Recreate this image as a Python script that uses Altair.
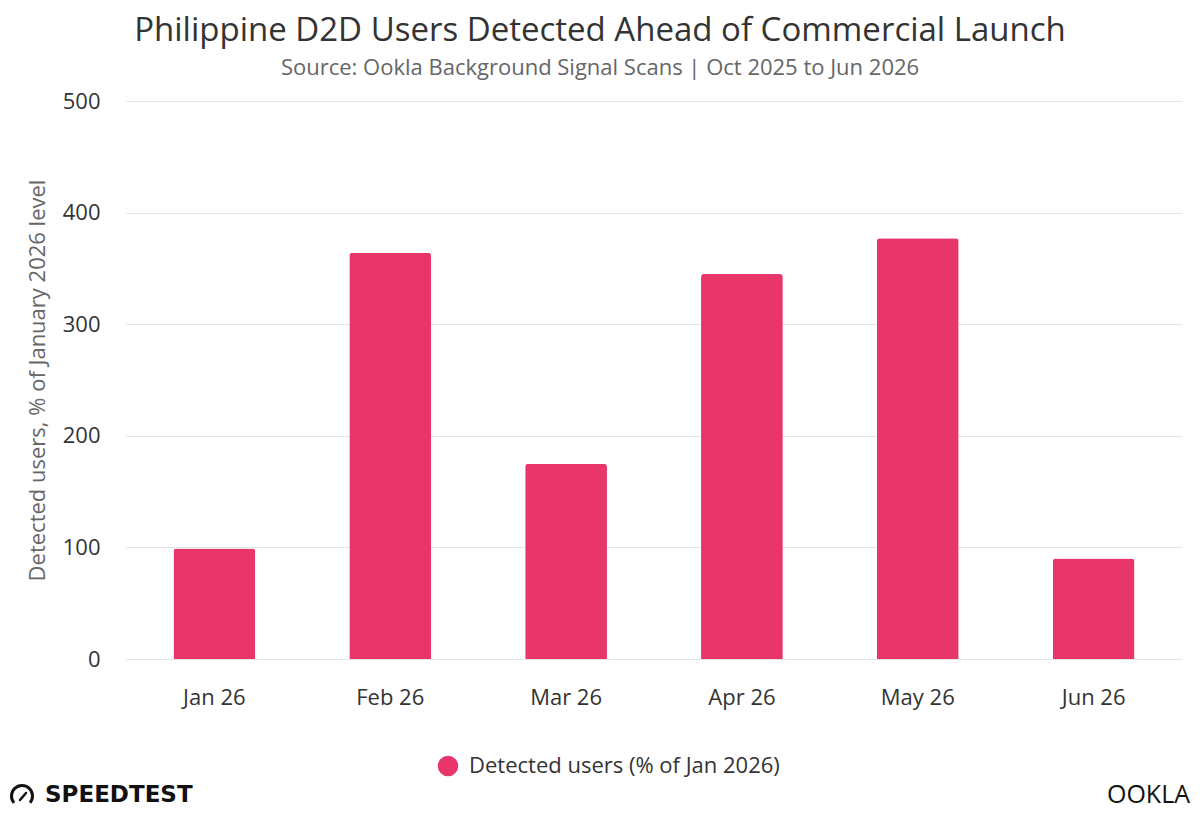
import altair as alt
import pandas as pd

months = ["Jan 26", "Feb 26", "Mar 26", "Apr 26", "May 26", "Jun 26"]
values = [99, 364, 175, 345, 377, 90]
series = ["Detected users (% of Jan 2026)"] * 6

df = pd.DataFrame({"month": months, "value": values, "series": series})

FONT = "Open Sans"
PINK = "#E8366A"

bars = alt.Chart(df).mark_bar(
    cornerRadiusTopLeft=3, cornerRadiusTopRight=3
).encode(
    x=alt.X("month:N", sort=months, title=None,
            scale=alt.Scale(paddingInner=0.535, paddingOuter=0.27),
            axis=alt.Axis(labelAngle=0, labelFontSize=22, labelColor="#333333",
                          labelFont=FONT, ticks=False, domain=False, labelPadding=28)),
    y=alt.Y("value:Q", title="Detected users, % of January 2026 level",
            scale=alt.Scale(domain=[0, 500]),
            axis=alt.Axis(values=[0, 100, 200, 300, 400, 500], labelFontSize=22,
                          labelColor="#333333", labelFont=FONT, ticks=False, domain=False,
                          gridColor="#e3e3e3", labelPadding=26,
                          titleFont=FONT, titleFontSize=22, titleColor="#666666",
                          titleFontWeight="normal", titlePadding=13)),
    color=alt.Color("series:N", scale=alt.Scale(range=[PINK]),
                    legend=alt.Legend(title=None, orient="none", legendX=311, legendY=654,
                                      symbolType="circle", symbolSize=420, labelLimit=0,
                                      labelFont=FONT, labelFontSize=22, labelColor="#333333",
                                      symbolStrokeWidth=0, labelOffset=10))
)

title_df = pd.DataFrame({"t": ["Philippine D2D Users Detected Ahead of Commercial Launch"]})
title = alt.Chart(title_df).mark_text(
    font=FONT, fontSize=33, color="#333333", baseline="middle", align="center"
).encode(text="t:N", x=alt.value(474), y=alt.value(-70))

sub_df = pd.DataFrame({"t": ["Source: Ookla Background Signal Scans | Oct 2025 to Jun 2026"]})
sub = alt.Chart(sub_df).mark_text(
    font=FONT, fontSize=22, color="#666666", baseline="middle", align="center"
).encode(text="t:N", x=alt.value(474), y=alt.value(-33))

sp_df = pd.DataFrame({"t": ["SPEEDTEST"]})
sp = alt.Chart(sp_df).mark_text(
    font="DejaVu Sans", fontSize=23, fontWeight="bold", color="#111111",
    baseline="middle", align="left"
).encode(text="t:N", x=alt.value(-81), y=alt.value(694))

gauge_df = pd.DataFrame({"t": ["gauge"]})
gauge = alt.Chart(gauge_df).mark_arc(
    innerRadius=9, outerRadius=12, theta=4.0, theta2=8.56, color="#111111"
).encode(x=alt.value(-104), y=alt.value(695))

needle = alt.Chart(gauge_df).mark_rule(
    color="#111111", strokeWidth=2.5, strokeCap="round"
).encode(x=alt.value(-106), y=alt.value(699), x2=alt.value(-100), y2=alt.value(692))

ok_df = pd.DataFrame({"t": ["OOKLA"]})
ok = alt.Chart(ok_df).mark_text(
    font=FONT, fontSize=25, color="#111111", baseline="middle", align="right"
).encode(text="t:N", x=alt.value(1064), y=alt.value(694))

chart = alt.layer(bars, title, sub, sp, gauge, needle, ok).properties(
    width=1056, height=558,
    background="white",
    autosize=alt.AutoSizeParams(type="none"),
    padding={"left": 126, "top": 101, "right": 18, "bottom": 155},
).configure_view(stroke=None)

chart.save("out.html", embed_options={"renderer": "svg", "actions": False})
